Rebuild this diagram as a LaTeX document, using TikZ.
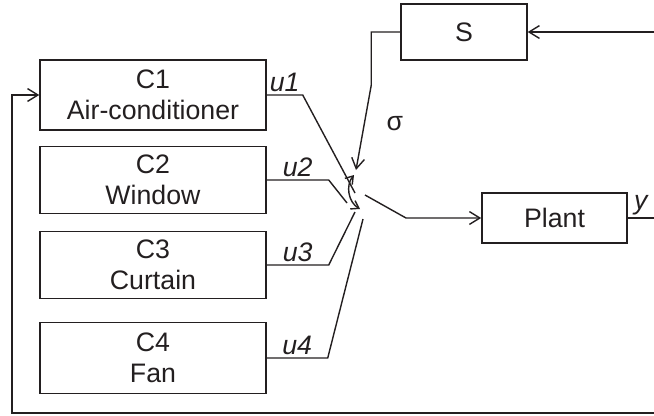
\documentclass[tikz,border=0pt]{standalone}
\usepackage{fontspec}
\setmainfont{Liberation Sans}
\usetikzlibrary{positioning,calc,arrows.meta}
\definecolor{ink}{RGB}{35,31,32}

\begin{document}
\begin{tikzpicture}[x=0.025cm, y=-0.025cm, color=ink, line width=1pt, >={Straight Barb[length=2.6mm, width=3.2mm]}, block/.style = {draw, rectangle, minimum width=5.65cm, minimum height=1.72cm, inner sep=0pt, align=center, font=\fontsize{19}{22}\selectfont}, lbl/.style = {inner sep=1.5pt, font=\fontsize{19}{20}\selectfont\itshape}, small/.style = {{Straight Barb[length=1.8mm, width=2.4mm]}-{Straight Barb[length=1.8mm, width=2.4mm]}}]

\useasboundingbox (0,0) rectangle (654,416);

% controllers
\node[block, minimum height=1.75cm] (C1) at (153,95) {C1\\Air-conditioner};
\node[block, minimum height=1.67cm] (C2) at (153,180) {C2\\Window};
\node[block, minimum height=1.67cm] (C3) at (153,265) {C3\\Curtain};
\node[block, minimum height=1.77cm] (C4) at (153,358) {C4\\Fan};

% supervisor and plant
\node[block, minimum width=3.15cm, minimum height=1.4cm] (S) at (464,32) {S};
\node[block, minimum width=3.63cm, minimum height=1.25cm] (P) at (554.5,218) {Plant};

% switch contacts
\coordinate (p1) at (355,193);
\coordinate (p2) at (347,203);
\coordinate (p3) at (355,212);
\coordinate (p4) at (363,219);
\coordinate (pole) at (365,195);
\coordinate (sig) at (356,170);
\coordinate (armlo) at (360,209);
\coordinate (armhi) at (354,175);

% ends at the right border
\coordinate (yend) at (654,218);
\coordinate (fb) at (654,413);
\coordinate (sin) at (654,32);

\draw (C1.east) -- node[lbl, above] {u1} ++(36,0) -- (p1);
\draw (C2.east) -- node[lbl, above] {u2} ++(62,0) -- (p2);
\draw (C3.east) -- node[lbl, above] {u3} ++(62,0) -- (p3);
\draw (C4.east) -- node[lbl, above] {u4} ++(61,0) -- (p4);

\draw[small] (armlo) to[bend left=50] (armhi);
\draw[->] (pole) -- ++(41,23) -- (P.west);

\draw[->] (S.west) -| ++(-29,53) -- node[pos=0.45, right=12pt, font=\fontsize{19}{20}\selectfont] {σ} (sig);
\draw[->] (sin) -- (S.east);

\draw (P.east) -- node[lbl, above] {y} (yend);
\draw[->] (fb) -- ++(-642,0) |- (C1.west);
\end{tikzpicture}
\end{document}
